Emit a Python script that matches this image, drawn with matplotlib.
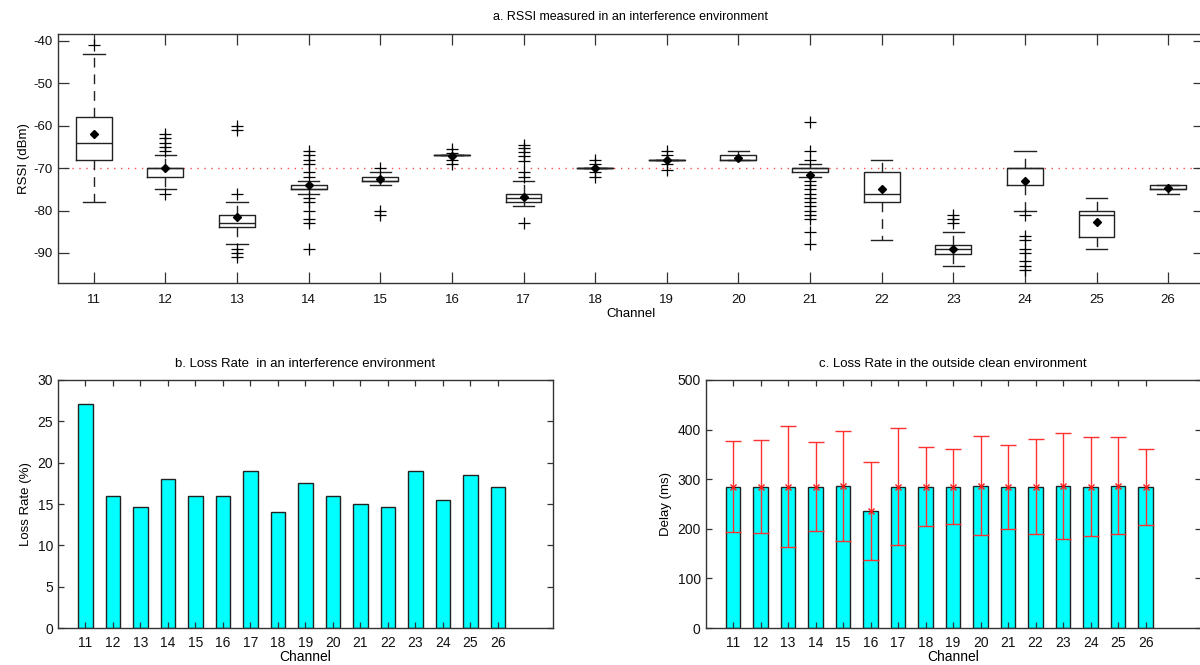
import matplotlib
matplotlib.use("Agg")
import matplotlib.pyplot as plt

plt.rcParams["font.family"] = ["Liberation Sans", "DejaVu Sans"]
plt.rcParams["axes.unicode_minus"] = False

channels = list(range(11, 27))

# a. RSSI box statistics (dBm)
rssi_q3 = [-58, -70, -81, -74, -72, -67, -76, -70, -68, -67, -70, -71, -88.2, -70, -80, -74]
rssi_med = [-64, -70, -83, -75, -73, -67, -77, -70, -68, -68, -70, -76, -89, -70, -81, -75]
rssi_q1 = [-68, -72, -84, -75, -73, -67, -78, -70, -68, -68, -71, -78, -90.2, -74, -86.2, -75]
rssi_whishi = [-43, -67, -78, -73, -71, -67, -73, -70, -68, -66, -69, -68, -85, -66, -77, -74]
rssi_whislo = [-78, -75, -88, -76, -74, -67, -79, -70, -68, -68, -72, -87, -93, -80, -89, -76]
rssi_mean = [-62, -70, -81.5, -74, -72.5, -67.2, -76.7, -70, -68, -67.7, -71.7, -75, -89, -73, -82.6, -74.7]
rssi_fliers = [
    [-41],
    [-62, -63, -64, -65, -66, -76],
    [-60, -61, -76, -89, -90, -91],
    [-66, -67, -68, -69, -71, -72, -77, -78, -80, -82, -83, -89],
    [-70, -80, -81],
    [-65.5, -66.5, -68, -69],
    [-64.5, -65.3, -66.3, -67.2, -68.3, -71, -72, -83],
    [-68, -69, -71, -72],
    [-66, -67, -69, -70.5],
    [],
    [-59, -66, -68, -73, -74, -75, -76, -77, -78, -79, -80, -81, -82, -85, -88],
    [],
    [-81, -82, -83],
    [-81, -86, -87, -89, -90, -92, -93, -94],
    [],
    [],
]

# b. loss rate (%)
loss_rate = [27.1, 16, 14.6, 18, 16, 16, 19, 14, 17.5, 16, 15, 14.6, 19, 15.5, 18.5, 17.1]

# c. delay (ms), mean and spread
delay_mean = [285, 285, 285, 285, 287, 236, 285, 285, 285, 287, 285, 285, 287, 285, 287, 285]
delay_std = [91.5, 93.5, 121.8, 89.2, 111, 97.9, 117.8, 80, 75.7, 100, 84.4, 95.6, 106.7, 100, 97.6, 76.7]

EDGE = "#222222"
SPINE = "#333333"


def style_axes(ax, ticklen, fs, xpad):
    ax.tick_params(direction="in", top=True, right=True, length=ticklen,
                   width=0.9, color=SPINE, labelsize=fs, labelcolor="#111111")
    ax.tick_params(axis="x", pad=xpad)
    for s in ax.spines.values():
        s.set_color(SPINE)
        s.set_linewidth(1.0)


fig = plt.figure(figsize=(12, 6.65), dpi=100)

# ---- a. boxplot
ax1 = fig.add_axes([0.0483, 0.5744, 0.955, 0.3745])
stats = []
for i, ch in enumerate(channels):
    stats.append(dict(med=rssi_med[i], q1=rssi_q1[i], q3=rssi_q3[i],
                      whislo=rssi_whislo[i], whishi=rssi_whishi[i],
                      mean=rssi_mean[i], fliers=rssi_fliers[i]))
ax1.axhline(-70, color="red", ls=(0, (1, 4)), lw=1.0, alpha=0.7, zorder=1)
ax1.bxp(stats, positions=channels, widths=0.5, capwidths=0.3,
        showmeans=True, manage_ticks=False,
        boxprops=dict(color=EDGE, lw=1.0),
        whiskerprops=dict(color=EDGE, lw=1.0, linestyle=(0, (7, 5))),
        capprops=dict(color=EDGE, lw=1.0),
        medianprops=dict(color=EDGE, lw=1.0),
        meanprops=dict(marker="D", markerfacecolor="black", markeredgecolor="black",
                       markersize=4.5),
        flierprops=dict(marker="+", markeredgecolor="black", markersize=8,
                        markeredgewidth=0.9, linestyle="none"))
ax1.set_xlim(10.5, 26.5)
ax1.set_ylim(-97.1, -38.35)
ax1.set_xticks(channels)
ax1.set_yticks([-90, -80, -70, -60, -50, -40])
ax1.set_title("a. RSSI measured in an interference environment", fontsize=9, pad=10)
ax1.set_xlabel("Channel", fontsize=9.5, labelpad=1)
ax1.set_ylabel("RSSI (dBm)", fontsize=9.5, labelpad=3)
style_axes(ax1, 8, 9.5, 8)

# ---- b. loss rate bars
ax2 = fig.add_axes([0.0483, 0.0556, 0.4125, 0.373])
ax2.bar(channels, loss_rate, width=0.52, color="cyan", edgecolor=EDGE, lw=1.0)
ax2.set_xlim(10, 28)
ax2.set_ylim(0, 30)
ax2.set_xticks(channels)
ax2.set_yticks(range(0, 31, 5))
ax2.set_title("b. Loss Rate  in an interference environment", fontsize=9.5, pad=9)
ax2.set_xlabel("Channel", fontsize=10, labelpad=0)
ax2.set_ylabel("Loss Rate (%)", fontsize=9.5, labelpad=4)
style_axes(ax2, 4, 10, 6)

# ---- c. delay bars with error bars
ax3 = fig.add_axes([0.588, 0.0556, 0.4125, 0.373])
ax3.bar(channels, delay_mean, width=0.52, color="cyan", edgecolor=EDGE, lw=1.0)
ax3.errorbar(channels, delay_mean, yerr=delay_std, fmt="x", color="#ff1a1a",
             ecolor="#ff3030", elinewidth=1.0, capsize=6, capthick=1.0,
             markersize=5, markeredgewidth=1.0)
ax3.set_xlim(10, 28)
ax3.set_ylim(0, 500)
ax3.set_xticks(channels)
ax3.set_yticks(range(0, 501, 100))
ax3.set_title("c. Loss Rate in the outside clean environment", fontsize=9.5, pad=9)
ax3.set_xlabel("Channel", fontsize=10, labelpad=0)
ax3.set_ylabel("Delay (ms)", fontsize=9.5, labelpad=4)
style_axes(ax3, 4, 10, 6)

fig.savefig("out.png", dpi=100)
